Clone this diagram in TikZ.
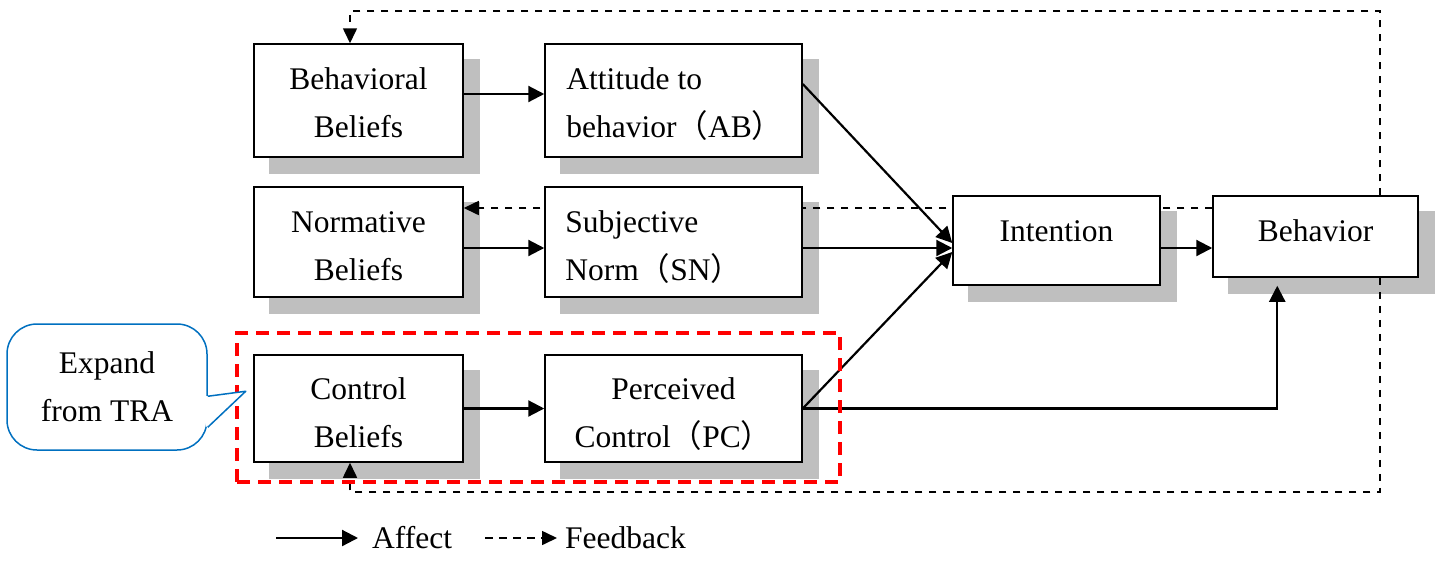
\documentclass[tikz,border=0pt]{standalone}
\usepackage{fontspec}
\setmainfont{Liberation Serif}
\newfontfamily\cjkfont{Noto Sans CJK SC}
\usetikzlibrary{arrows.meta,calc}
\pgfdeclarelayer{background}
\pgfsetlayers{background,main}
\newcommand{\lp}{{\cjkfont （}}
\newcommand{\rp}{{\cjkfont ）}}
\newcommand{\ts}{\rule{0pt}{24pt}}
\definecolor{shadowgray}{RGB}{191,191,191}
\definecolor{calloutblue}{RGB}{0,112,192}
\definecolor{framered}{RGB}{255,0,0}

\begin{document}
\begin{tikzpicture}[x=1pt,y=-1pt,
  font=\fontsize{31.5}{48}\selectfont,
  box/.style={draw=black, line width=1.5pt, fill=white, inner sep=0pt},
  lbl/.style={inner sep=0pt, anchor=north, align=center},
  lbll/.style={inner sep=0pt, anchor=north west, align=left},
  affect/.style={line width=2.2pt, -{Triangle[length=16pt,width=16pt]}},
  feedback/.style={line width=1.6pt, dash pattern=on 7.5pt off 6.5pt, -{Triangle[length=15pt,width=14pt]}},
]
\useasboundingbox (0,0) rectangle (1439,563);

% boxes
\node[box, minimum width=209pt, minimum height=113pt] (bb) at (358.5,100.5) {};
\node[box, minimum width=257pt, minimum height=113pt] (ab) at (673.5,100.5) {};
\node[box, minimum width=209pt, minimum height=110pt] (nb) at (358.5,242) {};
\node[box, minimum width=257pt, minimum height=110pt] (sn) at (673.5,242) {};
\node[box, minimum width=209pt, minimum height=107pt] (cb) at (358.5,408.5) {};
\node[box, minimum width=257pt, minimum height=107pt] (pc) at (673.5,408.5) {};
\node[box, minimum width=207pt, minimum height=89pt] (it) at (1056.5,240.5) {};
\node[box, minimum width=205pt, minimum height=81pt] (be) at (1315.5,236.5) {};

% box texts
\node[lbl]  (bbt) at ($(bb.north)+(0,22)$) {\ts Behavioral\\Beliefs};
\node[lbll] (abt) at ($(ab.north west)+(22,22)$) {\ts Attitude to\\behavior\lp AB\rp};
\node[lbl]  (nbt) at ($(nb.north)+(0,22)$) {\ts Normative\\Beliefs};
\node[lbll] (snt) at ($(sn.north west)+(21,22)$) {\ts Subjective\\Norm\lp SN\rp};
\node[lbl]  (cbt) at ($(cb.north)+(0,21)$) {\ts Control\\Beliefs};
\node[lbl]  (pct) at ($(pc.north)+(0,21)$) {\ts Perceived\\Control\lp PC\rp};
\node[lbl]  (itt) at ($(it.north)+(0,22)$) {\ts Intention};
\node[lbl]  (bet) at ($(be.north)+(0,22)$) {\ts Behavior};

% drop shadows and feedback loops, behind the boxes
\coordinate (fbtop) at (1380,11);
\coordinate (fbbot) at (1380,492);
\begin{pgfonlayer}{background}
  \foreach \n in {bb,ab,nb,sn,cb,pc,it,be}{
    \fill[shadowgray] ($(\n.north west)+(16,16)$) rectangle ($(\n.south east)+(16,16)$);
  }
  \draw[feedback] (fbtop |- be.north) -- (fbtop) -| ([xshift=-8.5pt]bb.north);
  \draw[feedback] (fbbot |- be.south) -- (fbbot) -| ([xshift=-8.5pt]cb.south);
  \draw[feedback] ([yshift=28.5pt]be.west) -- ([yshift=28.5pt]be.west -| nb.east);
\end{pgfonlayer}

% influence arrows
\draw[affect] ([yshift=6.5pt]bb.east) -- ([yshift=6.5pt]ab.west);
\draw[affect] ([yshift=-6pt]nb.east) -- ([yshift=-6pt]sn.west);
\draw[affect] (cb.east) -- (pc.west);
\draw[affect] ([yshift=16.5pt]ab.east) -- ([yshift=-2.5pt]it.west);
\draw[affect] ([yshift=-6pt]sn.east) -- ([yshift=-7.5pt]it.west);
\draw[affect] (pc.east) -- ([yshift=-11.5pt]it.west);
\draw[affect] ([yshift=-7.5pt]it.east) -- ([yshift=-7.5pt]it.east -| be.west);
\coordinate (bein) at ($(be.south west)+(65,8)$);
\draw[affect] (pc.east) -| (bein);

% extension frame
\node[draw=framered, line width=3.5pt, dash pattern=on 13pt off 8pt,
      minimum width=603pt, minimum height=149pt, inner sep=0pt] (ext) at (538.5,407.5) {};

% callout
\node[draw=calloutblue, line width=1.5pt, fill=white, rounded corners=30pt,
      minimum width=200pt, minimum height=126pt, inner sep=0pt, align=center]
      (tra) at (107,387) {Expand\\from TRA};
\coordinate (trip) at ($(tra.north east)+(38,68)$);
\fill[white] ($(tra.north east)+(-2,73)$) -- (trip) -- ($(tra.north east)+(-2,104)$) -- cycle;
\draw[calloutblue, line width=1.5pt, line join=round]
  ($(tra.north east)+(0,73)$) -- (trip) -- ($(tra.north east)+(0,104)$);

% legend
\coordinate (la1) at (276,538);
\coordinate (la2) at (358,538);
\draw[affect] (la1) -- (la2);
\node[anchor=base west, inner sep=0pt] (lat) at (372,548) {Affect};
\coordinate (lf1) at (485,538);
\coordinate (lf2) at (557,538);
\draw[feedback] (lf1) -- (lf2);
\node[anchor=base west, inner sep=0pt] (lft) at (565,548) {Feedback};
\end{tikzpicture}
\end{document}
